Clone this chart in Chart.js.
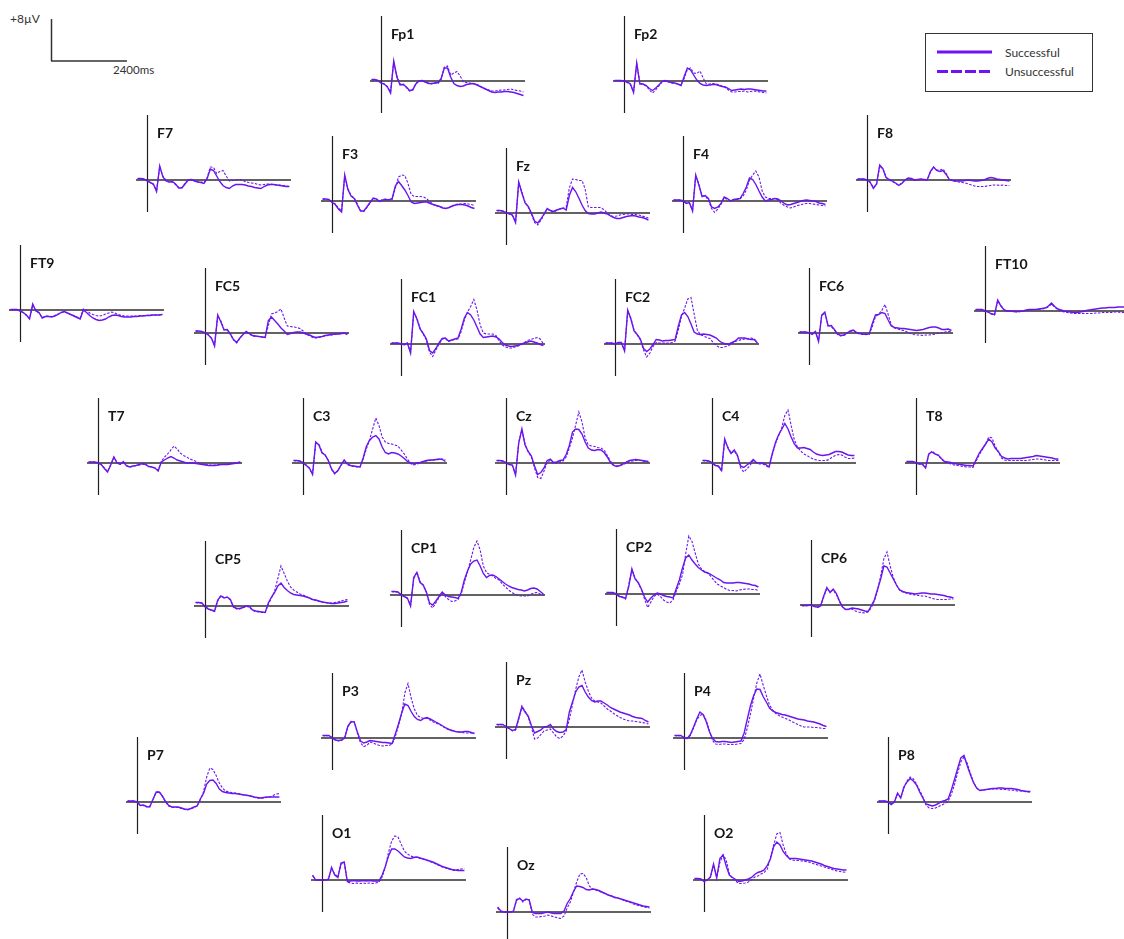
<!DOCTYPE html>
<html>
<head>
<meta charset="utf-8">
<title>ERP grand averages</title>
<script src="https://cdn.jsdelivr.net/npm/chart.js@4.4.1/dist/chart.umd.min.js"></script>
<style>
  html, body { margin: 0; padding: 0; background: #ffffff; }
  #page { position: relative; width: 1124px; height: 939px; overflow: hidden; font-family: Lato, "Open Sans", sans-serif; }
  #page canvas { position: absolute; }
  #decor { position: absolute; left: 0; top: 0; }
</style>
</head>
<body>
<div id="page">
  <svg id="decor" width="1124" height="100" xmlns="http://www.w3.org/2000/svg">
    <!-- calibration bar -->
    <line x1="51.5" y1="19" x2="51.5" y2="61" stroke="#333" stroke-width="1.5"/>
    <line x1="51" y1="61" x2="127" y2="61" stroke="#333" stroke-width="1.5"/>
    <text x="10" y="23" font-family="Lato, 'Open Sans', sans-serif" font-size="12" fill="#333">+8µV</text>
    <text x="113" y="74" font-family="Lato, 'Open Sans', sans-serif" font-size="11.5" fill="#333">2400ms</text>
    <!-- legend -->
    <rect x="925.5" y="33.5" width="167" height="58" fill="#fff" stroke="#333" stroke-width="1"/>
    <line x1="937" y1="52" x2="992" y2="52" stroke="#7012f4" stroke-width="3"/>
    <line x1="937" y1="71.5" x2="992" y2="71.5" stroke="#7012f4" stroke-width="3" stroke-dasharray="11 3"/>
    <text x="1005" y="56.5" font-family="Lato, 'Open Sans', sans-serif" font-size="12" fill="#333">Successful</text>
    <text x="1005" y="76" font-family="Lato, 'Open Sans', sans-serif" font-size="12" fill="#333">Unsuccessful</text>
  </svg>
</div>
<script>
// Sample times (ms relative to stimulus onset)
const times = [-300,-200,-100,0,100,200,300,400,500,600,700,800,900,1000,1100,1200,1300,1400,1500,1600,1700,1800,1900,2000,2100,2200,2300,2400,2500,2600,2700,2800,2900,3000,3100,3200,3300,3400,3500,3600,3700,3800,3900,4000,4100,4200,4300,4400,4500];

// Grand-average amplitudes (µV) per electrode, successful vs unsuccessful trials
const fp1Successful = [0.3,0.3,0.1,-0.4,-0.6,-1.2,-2.4,4.0,0.8,-0.8,-0.7,-1.2,-1.9,-1.8,-0.6,0.0,0.1,-0.2,-0.5,-0.5,-0.4,-0.3,0.5,2.6,2.6,0.8,-0.5,-0.9,-1.1,-1.0,-0.7,-0.6,-0.5,-0.7,-1.0,-1.3,-1.6,-1.9,-2.2,-2.3,-2.2,-2.2,-2.1,-2.1,-2.2,-2.3,-2.5,-2.7,-2.9];
const fp1Unsuccessful = [0.3,0.2,0.1,-0.3,-0.6,-1.1,-2.2,3.8,1.0,-0.6,-0.6,-1.3,-2.0,-1.7,-0.5,0.1,0.0,-0.2,-0.4,-0.6,-0.4,-0.5,0.3,2.8,3.0,1.2,1.6,1.9,1.0,-0.2,-0.3,-0.4,-0.5,-0.6,-0.9,-1.3,-1.6,-1.8,-2.0,-2.0,-1.9,-1.8,-1.8,-1.7,-1.6,-1.8,-1.9,-2.0,-2.2];
const fp2Successful = [0.1,0.1,0.1,0.0,-0.2,-0.6,-2.3,3.6,-0.6,-0.6,-0.9,-1.5,-1.9,-1.4,-0.8,-0.1,0.1,-0.1,-0.3,-0.4,-0.6,-0.9,0.9,2.6,2.2,1.2,0.2,-0.5,-0.8,-0.9,-0.8,-0.7,-0.7,-0.9,-1.1,-1.2,-1.5,-1.9,-1.8,-1.7,-1.6,-1.7,-1.6,-1.6,-1.7,-1.8,-1.9,-2.0,-2.0];
const fp2Unsuccessful = [0.1,0.1,0.0,0.0,-0.3,-0.7,-2.1,3.4,-0.4,-0.7,-1.0,-1.8,-2.4,-1.8,-1.0,-0.2,0.0,-0.2,-0.4,-0.5,-0.6,-0.8,0.5,2.3,2.6,1.6,1.5,2.0,0.6,-0.6,-0.6,-0.5,-0.6,-0.8,-1.0,-1.3,-1.8,-2.2,-2.2,-2.1,-2.1,-2.0,-2.2,-2.1,-2.0,-2.1,-2.2,-2.3,-2.4];
const f7Successful = [0.3,0.3,0.2,-0.2,-0.5,-0.8,-2.3,2.8,0.6,-0.2,-0.4,-0.3,-0.8,-1.6,-1.6,-0.8,0.0,0.1,-0.2,-0.4,-0.5,-0.7,0.3,2.2,1.9,0.8,-0.3,-1.1,-1.5,-1.7,-1.2,-0.9,-0.9,-0.9,-1.0,-1.2,-1.3,-1.5,-1.6,-1.7,-1.3,-1.0,-0.9,-0.9,-1.0,-1.1,-1.2,-1.3,-1.3];
const f7Unsuccessful = [0.3,0.2,0.2,-0.1,-0.5,-0.9,-2.1,2.6,0.8,-0.1,-0.4,-0.4,-0.9,-1.5,-1.5,-0.7,0.1,0.1,-0.1,-0.3,-0.4,-0.5,0.5,2.6,2.5,1.3,1.7,1.9,0.8,-0.2,-0.1,0.0,0.1,0.0,-0.3,-0.5,-0.6,-0.7,-0.9,-1.0,-0.9,-0.8,-0.8,-0.9,-1.0,-1.0,-1.1,-1.2,-1.3];
const f3Successful = [0.4,0.4,0.3,-0.3,-0.7,-1.6,-2.2,5.2,2.3,1.0,0.5,-0.8,-2.0,-2.0,-1.2,-0.3,0.6,0.4,-0.1,0.2,0.3,0.2,0.5,3.0,3.9,3.1,2.2,1.1,-0.2,-0.5,-0.4,-0.3,-0.2,-0.2,-0.5,-0.7,-0.9,-1.1,-1.4,-1.5,-1.3,-1.0,-0.8,-0.7,-0.7,-0.8,-1.0,-1.3,-1.5];
const f3Unsuccessful = [0.4,0.3,0.3,-0.2,-0.6,-1.4,-2.0,5.0,2.5,1.1,0.6,-0.6,-1.9,-2.1,-1.3,-0.4,0.5,0.3,0.0,0.3,0.4,0.3,0.3,2.6,4.8,5.2,5.1,3.5,1.3,0.9,0.9,0.9,0.8,0.4,-0.2,-0.7,-1.0,-1.1,-1.3,-1.5,-1.3,-1.0,-0.7,-0.6,-0.6,-0.5,-0.6,-0.7,-0.9];
const fzSuccessful = [0.5,0.5,0.4,0.0,-0.1,-0.4,-1.9,6.2,4.0,2.0,1.3,0.0,-1.6,-2.0,-1.2,-0.2,0.9,0.5,0.3,0.6,0.8,1.0,0.6,3.5,5.1,4.3,3.0,1.6,0.5,-0.1,-0.2,-0.2,0.0,0.2,0.0,-0.2,-0.6,-0.9,-1.1,-1.1,-0.9,-0.7,-0.6,-0.5,-0.6,-0.8,-0.9,-1.1,-1.4];
const fzUnsuccessful = [0.5,0.4,0.4,0.1,-0.2,-0.5,-1.7,6.0,4.2,2.2,1.2,-0.2,-1.9,-2.4,-1.5,-0.3,0.8,0.4,0.2,0.5,0.8,0.9,1.2,5.0,6.8,6.7,6.5,6.5,4.8,1.2,1.1,1.1,1.1,1.1,0.6,0.0,-0.5,-0.7,-0.6,-0.4,-0.3,-0.2,-0.2,-0.3,-0.3,-0.4,-0.6,-0.8,-1.0];
const f4Successful = [0.2,0.2,0.2,0.0,-0.5,-0.3,-2.0,5.2,3.2,0.9,1.1,0.5,-1.2,-1.5,-1.2,-0.5,0.8,0.5,0.0,0.3,0.4,0.5,1.5,2.8,4.6,4.3,3.3,2.0,0.8,0.0,0.2,0.3,0.5,0.4,0.0,-0.5,-0.8,-0.7,-0.5,-0.3,-0.1,0.1,0.2,0.1,0.0,-0.1,-0.4,-0.5,-0.7];
const f4Unsuccessful = [0.2,0.1,0.2,0.1,-0.4,-0.4,-1.8,5.0,3.4,1.0,1.0,0.2,-1.5,-2.3,-1.6,-0.6,0.6,0.3,0.1,0.2,0.3,0.4,1.0,2.2,4.2,5.2,6.0,4.8,2.0,0.8,0.5,0.5,0.5,0.2,-0.5,-0.9,-1.2,-1.4,-1.2,-0.9,-0.8,-0.6,-0.5,-0.5,-0.6,-0.7,-0.8,-0.9,-1.0];
const f8Successful = [0.2,0.2,0.2,0.0,-0.5,-1.7,-0.8,3.0,2.3,0.5,0.1,-0.2,-0.6,-1.1,-0.7,0.0,0.4,0.3,0.0,0.1,0.2,0.1,0.0,1.7,2.6,1.9,1.7,1.9,1.1,0.1,-0.1,-0.2,-0.2,-0.2,-0.1,0.0,-0.1,-0.2,-0.2,-0.1,0.0,0.3,0.5,0.4,0.2,0.1,0.0,-0.1,-0.2];
const f8Unsuccessful = [0.2,0.1,0.2,0.0,-0.4,-1.5,-0.9,2.8,2.2,0.6,0.0,-0.3,-0.7,-1.0,-0.6,0.0,0.3,0.2,0.0,0.0,0.1,0.1,0.0,1.5,2.6,2.0,2.0,2.2,1.3,0.1,-0.1,-0.3,-0.4,-0.5,-0.6,-0.8,-1.0,-1.2,-1.3,-1.3,-1.3,-1.2,-1.1,-1.0,-1.0,-1.1,-1.0,-1.1,-1.1];
const ft9Successful = [0.1,0.1,0.1,-0.2,-0.5,-1.0,-1.8,1.2,-0.2,-0.5,-1.6,-1.3,-1.3,-1.4,-1.2,-0.9,-0.5,-0.3,-0.6,-0.9,-1.2,-1.5,-1.8,0.0,-0.5,-1.1,-1.6,-1.9,-2.1,-2.0,-1.8,-1.4,-1.1,-1.0,-1.1,-1.3,-1.4,-1.4,-1.4,-1.3,-1.3,-1.2,-1.2,-1.1,-1.1,-1.0,-1.0,-1.0,-0.9];
const ft9Unsuccessful = [0.1,0.0,0.1,-0.1,-0.5,-1.1,-1.7,1.0,-0.1,-0.6,-1.5,-1.2,-1.2,-1.3,-1.1,-0.8,-0.5,-0.4,-0.6,-0.9,-1.1,-1.4,-1.6,0.2,0.0,-0.6,-0.9,-1.1,-1.2,-1.1,-0.8,-0.6,-0.4,-0.6,-0.9,-1.1,-1.2,-1.2,-1.2,-1.2,-1.2,-1.1,-1.1,-1.1,-1.0,-1.0,-1.0,-1.0,-0.9];
const fc5Successful = [0.4,0.4,0.3,0.0,-0.4,-1.0,-2.6,3.6,2.2,0.6,0.7,-0.2,-1.3,-1.9,-1.0,-0.3,0.3,-0.1,-0.5,-0.6,-0.7,-0.8,-0.9,2.5,3.2,2.5,1.8,1.0,0.4,-0.3,-0.1,0.1,0.2,0.2,0.0,-0.2,-0.4,-0.7,-0.9,-0.8,-0.7,-0.5,-0.4,-0.3,-0.2,-0.2,-0.1,0.0,-0.3];
const fc5Unsuccessful = [0.4,0.3,0.3,0.1,-0.3,-1.1,-2.4,3.4,2.4,0.7,0.6,-0.3,-1.4,-2.0,-1.1,-0.2,0.2,-0.2,-0.6,-0.7,-0.7,-0.8,-0.8,1.5,3.8,4.0,4.3,4.8,3.0,1.4,1.3,1.2,1.1,0.9,0.4,-0.3,-0.5,-0.9,-1.0,-0.9,-0.7,-0.6,-0.5,-0.4,-0.3,-0.2,-0.2,-0.1,0.0];
const fc1Successful = [0.2,0.2,0.2,0.0,-0.1,0.2,-1.8,6.5,5.0,3.0,2.1,1.0,-1.3,-1.8,-0.9,0.2,1.1,1.2,0.6,0.8,1.0,1.2,3.0,5.2,6.3,5.8,4.8,3.4,2.0,1.3,1.4,1.5,1.6,1.4,1.0,0.3,-0.2,-0.4,-0.5,-0.4,-0.3,0.0,0.2,0.4,0.6,0.4,0.2,-0.1,-0.3];
const fc1Unsuccessful = [0.2,0.1,0.2,0.1,-0.2,0.1,-1.6,6.2,5.2,3.2,2.0,0.8,-1.6,-2.5,-1.2,0.0,1.0,1.1,0.5,0.7,0.9,1.0,2.5,4.8,6.4,7.5,8.9,6.8,3.8,2.2,2.0,2.0,2.0,1.7,0.6,-0.2,-0.6,-0.8,-0.8,-0.6,-0.4,-0.1,0.3,0.7,0.9,1.1,1.3,1.0,0.0];
const fc2Successful = [0.2,0.2,0.2,0.0,0.3,0.3,-1.4,6.8,5.0,2.6,1.9,1.0,-0.9,-1.5,-1.0,-0.1,0.9,0.8,0.6,0.7,0.7,0.8,0.9,3.6,5.8,6.3,5.5,4.0,2.4,2.0,1.9,2.0,1.9,1.8,1.5,1.2,0.6,0.2,0.0,0.0,0.3,0.6,1.2,1.2,1.2,1.0,0.9,0.9,0.2];
const fc2Unsuccessful = [0.2,0.1,0.2,0.1,0.2,0.3,-1.2,6.5,5.2,2.8,1.8,0.8,-1.2,-2.6,-1.8,-0.5,0.3,0.2,0.2,0.2,0.2,0.3,0.6,2.8,5.5,7.2,9.0,9.3,6.0,2.8,1.8,1.6,1.3,1.1,0.3,-0.3,-0.7,-0.7,-0.5,-0.3,0.1,0.5,0.7,0.9,1.0,1.1,1.2,1.0,0.4];
const fc6Successful = [0.2,0.2,0.2,0.0,-0.2,0.3,-1.7,3.6,4.2,1.4,1.5,0.7,-0.2,-0.5,-0.4,0.0,0.4,0.6,0.1,-0.1,-0.2,-0.3,-0.2,1.9,3.6,3.7,4.1,3.9,2.6,1.4,1.1,1.0,0.9,0.9,0.8,0.7,0.6,0.5,0.6,0.7,0.9,1.1,1.2,1.2,1.0,0.7,0.7,0.8,0.5];
const fc6Unsuccessful = [0.2,0.1,0.2,0.1,-0.3,0.2,-1.5,3.5,4.0,1.6,1.3,0.6,-0.3,-0.6,-0.5,-0.1,0.3,0.5,0.0,-0.2,-0.3,-0.3,-0.3,1.3,3.3,3.8,4.5,5.7,3.7,1.6,1.0,0.8,0.6,0.5,0.2,-0.1,-0.3,-0.4,-0.4,-0.5,-0.4,-0.4,-0.3,-0.2,0.0,0.0,0.2,0.3,0.3];
const ft10Successful = [0.3,0.3,0.3,0.0,-0.2,-0.6,-0.7,2.2,1.0,0.2,0.0,0.0,-0.1,-0.1,-0.1,0.0,0.2,0.3,0.3,0.3,0.4,0.5,0.6,1.0,1.6,0.9,0.4,0.2,0.0,-0.1,-0.2,-0.3,-0.3,-0.2,-0.1,0.1,0.2,0.3,0.4,0.5,0.6,0.6,0.7,0.7,0.7,0.8,0.8,0.8,0.7];
const ft10Unsuccessful = [0.3,0.2,0.3,0.1,-0.2,-0.5,-0.8,2.0,1.1,0.3,0.0,-0.1,-0.1,-0.2,-0.1,0.0,0.1,0.2,0.3,0.3,0.3,0.4,0.5,0.8,1.4,0.8,0.3,0.0,-0.2,-0.3,-0.4,-0.5,-0.5,-0.5,-0.5,-0.5,-0.5,-0.5,-0.4,-0.4,-0.3,-0.3,-0.3,-0.3,-0.2,-0.2,-0.3,-0.3,-0.3];
const t7Successful = [0.2,0.2,0.2,0.0,-0.3,-1.1,-1.8,-0.4,1.2,0.0,-0.3,0.3,-0.6,-0.8,-0.6,-0.5,-0.3,-0.1,-0.3,-0.7,-0.8,-1.0,-1.6,0.2,0.6,1.0,1.3,1.0,0.6,0.4,0.2,0.0,0.0,0.0,-0.1,-0.2,-0.3,-0.4,-0.5,-0.5,-0.5,-0.4,-0.3,-0.3,-0.3,-0.2,-0.1,0.0,0.2];
const t7Unsuccessful = [0.2,0.1,0.2,0.1,-0.3,-1.0,-1.7,-0.3,1.1,0.1,-0.2,0.2,-0.5,-0.8,-0.7,-0.5,-0.4,-0.2,-0.3,-0.6,-0.8,-1.0,-1.4,0.3,1.2,1.8,2.6,3.4,2.8,2.0,1.5,1.2,0.8,0.6,0.3,0.0,-0.2,-0.3,-0.4,-0.4,-0.4,-0.3,-0.3,-0.3,-0.2,-0.1,0.0,0.1,0.2];
const c3Successful = [0.5,0.5,0.4,0.0,-0.5,-1.0,-2.3,4.2,3.6,2.0,1.6,0.5,-1.2,-2.1,-1.5,-0.4,0.6,-0.2,-0.5,-0.6,-0.7,-0.8,1.0,3.3,4.5,5.2,5.5,4.8,3.2,2.1,1.8,2.1,2.0,1.8,1.4,0.9,0.3,0.0,-0.2,0.0,0.1,0.3,0.5,0.6,0.6,0.7,0.8,0.7,0.3];
const c3Unsuccessful = [0.5,0.4,0.4,0.1,-0.4,-1.1,-2.2,4.0,3.8,2.2,1.5,0.4,-1.3,-2.2,-1.6,-0.5,0.5,-0.3,-0.6,-0.7,-0.8,-0.8,0.8,2.8,4.6,6.8,9.0,7.5,5.2,4.2,3.9,3.8,3.6,3.4,2.6,1.8,0.8,-0.1,-0.4,-0.2,0.0,0.2,0.4,0.5,0.6,0.6,0.7,0.8,0.6];
const czSuccessful = [0.5,0.5,0.4,0.0,-0.3,-0.4,-2.4,4.0,6.8,3.6,2.3,1.4,-0.6,-2.3,-1.9,-1.0,0.5,0.8,0.1,0.2,0.5,0.6,1.7,3.5,6.2,6.8,6.7,5.8,4.2,3.0,2.6,2.5,2.7,2.6,2.1,1.2,0.1,-0.5,-0.7,-0.5,-0.2,0.2,0.5,0.6,0.7,0.6,0.5,0.4,0.3];
const czUnsuccessful = [0.5,0.4,0.4,0.1,-0.3,-0.5,-2.3,4.2,6.6,3.8,2.2,1.2,-1.0,-2.9,-3.1,-1.6,0.2,0.5,-0.1,0.0,0.2,0.4,1.2,3.0,5.0,7.6,10.2,8.2,5.0,3.6,3.4,3.3,3.1,3.0,2.6,1.5,0.4,-0.4,-0.6,-0.5,-0.3,0.0,0.3,0.4,0.5,0.6,0.4,0.3,0.2];
const c4Successful = [0.5,0.5,0.4,0.0,-0.5,-0.6,-1.5,4.8,3.0,1.9,2.6,1.6,-0.6,-0.9,-0.4,0.0,0.7,0.1,0.0,0.0,-0.3,-0.8,1.8,4.0,5.6,6.7,7.9,6.8,5.2,3.8,3.0,3.0,3.1,2.9,2.7,2.2,1.8,1.6,1.5,1.6,1.7,2.0,2.3,2.3,2.2,1.9,1.6,1.5,1.5];
const c4Unsuccessful = [0.5,0.4,0.4,0.1,-0.4,-0.7,-1.6,4.5,3.2,2.0,2.4,1.4,-0.9,-1.8,-1.2,-0.5,0.5,0.0,-0.2,-0.2,-0.5,-0.9,1.5,3.8,5.4,7.0,9.5,10.6,7.5,4.6,3.2,2.4,1.8,1.5,1.1,0.8,0.6,0.5,0.5,0.5,0.7,1.2,1.5,1.7,1.6,1.2,0.9,0.9,1.0];
const t8Successful = [0.3,0.3,0.3,0.0,-0.2,-0.2,-1.0,1.8,2.2,1.8,1.6,0.9,0.3,0.2,0.1,-0.1,-0.2,-0.3,-0.4,-0.5,-0.5,-0.6,0.7,2.0,2.9,3.8,4.8,4.2,3.0,2.3,1.3,1.0,0.8,0.9,0.9,0.9,0.9,1.0,1.1,1.2,1.3,1.5,1.4,1.3,1.2,1.1,1.0,0.8,0.8];
const t8Unsuccessful = [0.3,0.2,0.3,0.1,-0.2,-0.3,-0.9,1.6,2.4,1.9,1.5,0.8,0.2,0.0,-0.2,-0.4,-0.5,-0.6,-0.7,-0.8,-0.8,-0.9,0.4,1.7,2.7,3.9,5.2,5.0,3.4,2.2,1.0,0.6,0.5,0.5,0.5,0.5,0.5,0.5,0.5,0.6,0.7,0.8,0.8,0.7,0.6,0.5,0.5,0.5,0.5];
const cp5Successful = [0.7,0.7,0.6,-0.2,-0.6,-0.8,-1.0,1.2,2.0,1.6,1.8,1.3,-0.2,-0.5,-0.5,-0.3,0.0,-0.1,-0.8,-1.0,-1.1,-1.2,-1.3,0.6,1.8,2.7,4.0,4.6,3.7,3.1,2.6,2.3,2.2,2.1,2.0,1.8,1.6,1.3,1.2,1.0,0.8,0.7,0.6,0.5,0.5,0.6,0.7,0.8,1.0];
const cp5Unsuccessful = [0.7,0.6,0.6,-0.1,-0.5,-0.9,-1.1,1.0,2.1,1.7,1.7,1.2,-0.3,-0.6,-0.6,-0.3,-0.1,-0.2,-0.9,-1.1,-1.2,-1.3,-1.3,0.4,1.6,3.0,5.5,8.0,6.5,5.0,3.8,3.2,2.8,2.4,2.2,1.9,1.6,1.3,1.1,0.9,0.8,0.7,0.6,0.6,0.7,0.8,1.0,1.2,1.3];
const cp1Successful = [0.7,0.7,0.6,0.0,-0.3,-0.6,-2.2,3.5,4.5,2.5,2.0,0.6,-1.6,-2.0,-1.2,-0.3,0.6,0.0,-0.3,-0.4,-0.5,-0.7,0.5,3.0,4.8,6.2,6.8,7.0,5.8,4.3,3.5,3.9,4.0,3.7,3.2,2.7,2.2,1.8,1.5,1.3,1.1,1.0,0.8,1.0,1.3,1.4,1.2,0.7,0.2];
const cp1Unsuccessful = [0.7,0.6,0.6,0.1,-0.3,-0.7,-2.0,3.2,4.6,2.7,1.9,0.5,-1.9,-2.6,-1.6,-0.5,0.4,-0.3,-0.9,-1.3,-1.2,-0.9,0.2,2.5,4.6,7.0,9.5,10.8,9.0,5.8,4.5,4.1,3.8,3.3,3.0,2.2,1.6,1.0,0.5,0.2,-0.1,-0.2,-0.2,-0.2,0.1,0.4,0.5,0.2,0.0];
const cp2Successful = [0.3,0.3,0.3,0.0,-0.5,-0.6,-0.9,1.5,5.0,3.0,2.3,1.0,-0.6,-1.6,-0.8,-0.2,0.2,0.0,-0.3,-0.5,-0.6,-0.8,1.0,2.8,5.2,7.2,7.8,6.8,6.0,5.3,4.8,4.4,4.2,3.9,3.5,3.1,2.8,2.3,2.2,2.2,2.2,2.3,2.3,2.2,2.1,2.0,1.8,1.7,1.4];
const cp2Unsuccessful = [0.3,0.2,0.3,0.1,-0.4,-0.7,-1.0,1.8,4.8,3.2,2.2,0.9,-1.0,-2.7,-1.6,-0.5,0.0,-0.5,-1.2,-1.6,-1.8,-1.2,0.5,2.0,3.8,8.0,11.6,10.5,8.2,6.0,5.0,4.5,4.2,3.5,2.7,2.0,1.6,1.3,0.9,0.7,0.7,0.6,0.8,0.9,1.0,1.0,0.9,0.9,0.7];
const cp6Successful = [-0.1,-0.1,-0.1,0.0,-0.3,-0.4,-0.2,1.8,3.5,2.5,3.2,2.3,0.8,-0.4,-0.9,-0.8,-0.6,-0.7,-0.8,-1.0,-1.2,-1.3,-0.2,1.0,3.1,5.2,7.8,7.6,6.4,5.2,4.0,3.0,2.7,2.5,2.4,2.3,2.2,2.3,2.4,2.4,2.3,2.2,2.2,2.1,2.0,1.9,1.7,1.6,1.4];
const cp6Unsuccessful = [-0.1,-0.2,-0.1,0.0,-0.2,-0.5,-0.3,1.6,3.3,2.7,3.0,2.1,0.6,-0.5,-1.0,-0.9,-0.8,-1.2,-1.4,-1.5,-1.6,-1.4,-0.6,0.8,2.8,5.8,9.2,10.6,7.8,5.5,4.0,3.0,2.6,2.4,2.2,2.1,2.0,1.9,1.8,1.8,1.6,1.4,1.2,1.1,1.1,1.1,1.1,1.2,1.2];
const p3Successful = [0.5,0.5,0.5,0.0,-0.4,-0.5,-0.4,0.0,2.4,3.3,3.2,1.2,-0.6,-1.0,-0.8,-0.5,-0.6,-0.7,-0.8,-0.9,-0.9,-1.0,-1.1,0.8,2.8,5.0,6.8,6.5,5.3,4.3,3.7,3.5,3.9,4.1,3.8,3.5,3.1,2.8,2.4,2.0,1.7,1.5,1.3,1.2,1.2,1.3,1.3,1.1,0.9];
const p3Unsuccessful = [0.5,0.4,0.5,0.1,-0.3,-0.6,-0.5,0.2,2.2,3.2,3.3,1.0,-1.0,-1.7,-1.5,-0.8,-1.0,-1.3,-1.5,-1.6,-1.5,-1.5,-1.2,0.3,2.5,4.8,9.0,10.9,8.0,5.8,4.5,4.1,3.9,3.9,3.6,3.2,2.9,2.7,2.3,1.9,1.6,1.4,1.3,1.2,1.1,1.0,1.0,1.0,1.0];
const pzSuccessful = [0.5,0.5,0.5,0.0,-0.3,-0.7,-0.5,1.8,4.0,3.0,2.2,0.3,-1.2,-0.9,-0.6,0.0,0.1,0.5,-0.4,-0.9,-1.1,-1.0,-0.5,3.0,5.0,7.0,8.0,8.3,7.0,6.0,5.3,5.0,5.2,5.2,4.8,4.4,3.9,3.6,3.3,3.0,2.8,2.6,2.4,2.1,1.9,1.8,1.7,1.3,1.0];
const pzUnsuccessful = [0.5,0.4,0.5,0.1,-0.3,-0.8,-0.6,1.5,4.2,3.2,2.0,0.0,-2.4,-2.2,-1.5,-0.8,-0.6,-0.4,-1.2,-2.0,-2.3,-1.8,-0.8,1.5,4.5,7.5,10.0,11.4,9.0,7.2,5.8,5.2,5.0,4.8,4.2,3.6,3.2,2.7,2.3,1.9,1.6,1.4,1.2,1.2,1.1,1.0,0.9,0.8,0.6];
const p4Successful = [0.5,0.5,0.5,0.0,-0.1,0.7,2.2,3.8,5.2,4.7,3.3,1.3,-0.1,-0.7,-0.8,-0.7,-0.7,-0.8,-0.9,-0.8,-0.7,-0.6,1.0,3.8,6.5,8.5,9.8,9.7,8.3,7.2,6.0,5.4,5.1,4.9,4.7,4.6,4.4,4.2,4.0,3.8,3.7,3.6,3.4,3.3,3.2,3.0,2.8,2.5,2.3];
const p4Unsuccessful = [0.5,0.4,0.5,0.1,-0.1,0.5,2.0,3.6,4.5,4.8,3.5,1.5,-0.5,-1.2,-1.3,-1.2,-1.2,-1.3,-1.3,-1.3,-1.2,-1.1,-0.3,2.0,4.8,8.0,11.0,12.8,10.6,8.5,6.6,5.6,4.9,4.5,4.2,3.9,3.7,3.3,3.0,2.7,2.4,2.2,2.2,2.2,2.1,2.1,2.0,1.9,1.9];
const p7Successful = [0.2,0.2,0.2,0.0,-0.7,-0.6,-0.9,-1.0,0.5,1.9,2.0,1.2,0.1,-0.7,-1.0,-1.0,-1.0,-1.2,-1.4,-1.5,-1.3,-1.0,-0.8,0.6,1.7,3.6,4.3,4.4,3.7,2.6,2.1,1.9,1.8,1.7,1.7,1.6,1.5,1.4,1.3,1.2,1.0,0.9,0.8,0.9,1.0,1.0,1.0,1.0,1.0];
const p7Unsuccessful = [0.2,0.1,0.2,0.1,-0.6,-0.7,-1.0,-0.9,0.4,2.0,2.1,1.1,0.0,-0.8,-1.1,-1.1,-1.1,-1.3,-1.5,-1.6,-1.4,-1.1,-0.8,0.5,2.0,5.0,6.8,6.5,5.3,3.8,2.8,2.2,2.0,1.9,1.8,1.7,1.5,1.4,1.3,1.1,0.9,0.8,0.7,0.8,0.9,1.0,1.3,1.6,1.7];
const p8Successful = [0.2,0.2,0.2,0.0,-0.5,0.0,1.8,0.8,3.0,4.0,4.7,4.2,3.4,2.0,0.8,-0.4,-0.6,-0.8,-0.6,-0.3,0.1,0.3,0.6,2.4,4.5,6.7,8.8,9.3,7.3,5.5,3.9,2.8,2.3,2.4,2.5,2.6,2.7,2.7,2.8,2.8,2.7,2.7,2.7,2.6,2.5,2.3,2.2,2.1,2.1];
const p8Unsuccessful = [0.2,0.1,0.2,0.1,-0.4,0.1,1.6,0.9,2.8,4.2,5.0,4.6,3.6,2.3,1.0,-0.6,-1.2,-1.3,-1.2,-0.9,-0.6,-0.3,0.2,1.5,3.5,5.8,8.0,9.0,7.8,5.8,4.0,2.8,2.3,2.4,2.5,2.5,2.6,2.6,2.6,2.5,2.5,2.4,2.4,2.3,2.2,2.2,2.1,2.0,2.0];
const o1Successful = [1.0,0.0,0.0,0.0,0.0,0.1,2.5,1.0,0.5,3.4,3.6,-0.3,-0.2,-0.1,-0.2,-0.2,-0.1,-0.2,-0.1,-0.2,-0.2,-0.2,1.0,2.7,4.8,6.2,6.2,5.8,5.2,4.6,4.4,4.3,4.5,4.6,4.4,4.2,4.0,3.8,3.6,3.3,3.0,2.7,2.5,2.3,2.1,2.0,1.9,1.9,1.9];
const o1Unsuccessful = [0.8,0.0,0.0,0.0,0.0,0.2,2.3,1.2,0.6,3.2,3.4,-0.4,-0.6,-0.7,-0.6,-0.7,-0.6,-0.7,-0.6,-0.7,-0.6,-0.4,0.6,2.6,5.5,7.8,8.8,8.6,7.2,5.8,5.2,4.8,4.6,4.5,4.3,4.2,4.0,3.7,3.5,3.2,2.9,2.6,2.4,2.2,2.0,1.9,2.1,2.2,2.3];
const ozSuccessful = [1.0,0.2,0.0,0.0,0.0,0.1,2.5,2.7,2.2,2.6,2.4,-0.1,-0.3,-0.3,-0.3,-0.1,0.0,-0.2,-0.3,-0.3,-0.3,0.2,1.7,2.7,4.1,5.2,5.1,4.9,4.5,4.4,4.6,4.5,4.3,4.0,3.7,3.4,3.2,2.9,2.8,2.6,2.4,2.2,2.0,1.8,1.6,1.4,1.2,1.1,1.0];
const ozUnsuccessful = [0.8,0.1,0.0,0.0,0.0,0.2,2.3,2.8,2.0,2.5,2.5,-0.5,-1.0,-1.0,-0.9,-0.8,-0.6,-0.8,-1.0,-1.2,-1.3,-0.8,0.8,2.0,4.0,6.0,7.6,7.7,6.9,5.2,4.6,4.4,4.2,3.9,3.7,3.4,3.2,3.0,2.8,2.6,2.3,2.1,1.9,1.6,1.4,1.2,1.1,0.9,0.8];
const o2Successful = [0.3,0.3,0.2,-0.3,0.0,0.6,3.2,0.4,4.3,5.0,2.8,1.0,0.5,0.1,-0.3,-0.2,0.0,0.2,0.5,1.1,1.5,1.7,2.0,2.9,4.3,6.7,7.6,7.0,5.7,4.9,4.3,4.3,4.3,4.2,4.1,4.0,3.9,3.8,3.6,3.4,3.2,2.9,2.7,2.5,2.3,2.2,2.1,2.0,2.0];
const o2Unsuccessful = [0.3,0.2,0.2,-0.2,0.0,0.5,3.0,0.6,3.5,5.0,4.0,1.2,0.2,-0.2,-0.7,-0.7,-0.6,-0.4,0.0,0.6,0.8,1.2,1.5,2.2,4.5,7.0,9.2,9.5,7.0,5.2,4.2,4.0,3.9,3.9,3.8,3.7,3.6,3.4,3.2,3.0,2.8,2.6,2.4,2.2,2.0,1.8,1.7,1.6,1.5];

// Electrode montage: page position of each panel's origin (time 0, 0 µV)
const montage = [
  { label: 'Fp1',  x: 381, y: 81,  good: fp1Successful,  bad: fp1Unsuccessful },
  { label: 'Fp2',  x: 624, y: 81,  good: fp2Successful,  bad: fp2Unsuccessful },
  { label: 'F7',   x: 147, y: 180, good: f7Successful,   bad: f7Unsuccessful },
  { label: 'F3',   x: 332, y: 201, good: f3Successful,   bad: f3Unsuccessful },
  { label: 'Fz',   x: 506, y: 213, good: fzSuccessful,   bad: fzUnsuccessful },
  { label: 'F4',   x: 683, y: 201, good: f4Successful,   bad: f4Unsuccessful },
  { label: 'F8',   x: 867, y: 180, good: f8Successful,   bad: f8Unsuccessful },
  { label: 'FT9',  x: 20,  y: 310, good: ft9Successful,  bad: ft9Unsuccessful },
  { label: 'FC5',  x: 205, y: 333, good: fc5Successful,  bad: fc5Unsuccessful },
  { label: 'FC1',  x: 401, y: 344, good: fc1Successful,  bad: fc1Unsuccessful },
  { label: 'FC2',  x: 615, y: 344, good: fc2Successful,  bad: fc2Unsuccessful },
  { label: 'FC6',  x: 809, y: 333, good: fc6Successful,  bad: fc6Unsuccessful },
  { label: 'FT10', x: 985, y: 311, good: ft10Successful, bad: ft10Unsuccessful },
  { label: 'T7',   x: 98,  y: 463, good: t7Successful,   bad: t7Unsuccessful },
  { label: 'C3',   x: 303, y: 463, good: c3Successful,   bad: c3Unsuccessful },
  { label: 'Cz',   x: 506, y: 463, good: czSuccessful,   bad: czUnsuccessful },
  { label: 'C4',   x: 712, y: 463, good: c4Successful,   bad: c4Unsuccessful },
  { label: 'T8',   x: 916, y: 463, good: t8Successful,   bad: t8Unsuccessful },
  { label: 'CP5',  x: 205, y: 606, good: cp5Successful,  bad: cp5Unsuccessful },
  { label: 'CP1',  x: 401, y: 595, good: cp1Successful,  bad: cp1Unsuccessful },
  { label: 'CP2',  x: 616, y: 594, good: cp2Successful,  bad: cp2Unsuccessful },
  { label: 'CP6',  x: 811, y: 605, good: cp6Successful,  bad: cp6Unsuccessful },
  { label: 'P3',   x: 332, y: 738, good: p3Successful,   bad: p3Unsuccessful },
  { label: 'Pz',   x: 506, y: 727, good: pzSuccessful,   bad: pzUnsuccessful },
  { label: 'P4',   x: 684, y: 738, good: p4Successful,   bad: p4Unsuccessful },
  { label: 'P7',   x: 137, y: 802, good: p7Successful,   bad: p7Unsuccessful },
  { label: 'P8',   x: 888, y: 802, good: p8Successful,   bad: p8Unsuccessful },
  { label: 'O1',   x: 322, y: 880, good: o1Successful,   bad: o1Unsuccessful },
  { label: 'Oz',   x: 507, y: 912, good: ozSuccessful,   bad: ozUnsuccessful },
  { label: 'O2',   x: 704, y: 880, good: o2Successful,   bad: o2Unsuccessful }
];

// Panel geometry: 4900 ms across 155 px, 19.4 µV across 97 px
const T_MIN = -350, T_MAX = 4550, V_MIN = -6.4, V_MAX = 13;
const PLOT_W = 155, PLOT_H = 97, PAD = 4;
const ORIGIN_DX = Math.round((0 - T_MIN) / (T_MAX - T_MIN) * PLOT_W);
const ORIGIN_DY = Math.round(V_MAX / (V_MAX - V_MIN) * PLOT_H);
const TRACE_COLOR = '#6a16ec';

function toPoints(values) {
  return values.map((v, i) => ({ x: times[i], y: v }));
}

function axesPlugin(label) {
  return {
    id: 'eegAxes',
    beforeDatasetsDraw(chart) {
      const { ctx, chartArea: a, scales } = chart;
      const x0 = Math.round(scales.x.getPixelForValue(0)) + 0.5;
      const y0 = Math.round(scales.y.getPixelForValue(0));
      ctx.save();
      ctx.strokeStyle = '#1e1e1e';
      ctx.lineWidth = 1.2;
      ctx.beginPath();
      ctx.moveTo(x0, a.top);
      ctx.lineTo(x0, a.bottom);
      ctx.stroke();
      ctx.strokeStyle = '#2e2e2e';
      ctx.lineWidth = 1.7;
      ctx.beginPath();
      ctx.moveTo(a.left, y0);
      ctx.lineTo(a.right, y0);
      ctx.stroke();
      ctx.fillStyle = '#151515';
      ctx.font = 'bold 14px Lato, "Open Sans", sans-serif';
      ctx.textBaseline = 'alphabetic';
      ctx.textAlign = 'left';
      ctx.fillText(label, x0 + 9.5, y0 - 42);
      ctx.restore();
    }
  };
}

function buildPanel(p) {
  const canvas = document.createElement('canvas');
  const w = PLOT_W + 2 * PAD, h = PLOT_H + 2 * PAD;
  canvas.width = w; canvas.height = h;
  canvas.style.width = w + 'px'; canvas.style.height = h + 'px';
  canvas.style.left = (p.x - ORIGIN_DX - PAD) + 'px';
  canvas.style.top = (p.y - ORIGIN_DY - PAD) + 'px';
  document.getElementById('page').appendChild(canvas);

  new Chart(canvas, {
    type: 'line',
    data: {
      datasets: [
        { label: 'Unsuccessful', data: toPoints(p.bad), borderColor: TRACE_COLOR, borderWidth: 1.1, borderDash: [2.5, 1.5], pointRadius: 0, tension: 0, fill: false, clip: PAD },
        { label: 'Successful', data: toPoints(p.good), borderColor: TRACE_COLOR, borderWidth: 1.4, pointRadius: 0, tension: 0, fill: false, clip: PAD }
      ]
    },
    options: {
      responsive: false,
      animation: false,
      devicePixelRatio: 1,
      events: [],
      layout: { padding: PAD },
      scales: {
        x: { type: 'linear', min: T_MIN, max: T_MAX, display: false },
        y: { type: 'linear', min: V_MIN, max: V_MAX, display: false }
      },
      plugins: { legend: { display: false }, tooltip: { enabled: false }, title: { display: false } }
    },
    plugins: [axesPlugin(p.label)]
  });
}

function drawAll() { montage.forEach(buildPanel); }

if (document.fonts && document.fonts.load) {
  Promise.all([
    document.fonts.load('bold 14px Lato'),
    document.fonts.load('12px Lato')
  ]).then(drawAll, drawAll);
} else {
  drawAll();
}
</script>
</body>
</html>
